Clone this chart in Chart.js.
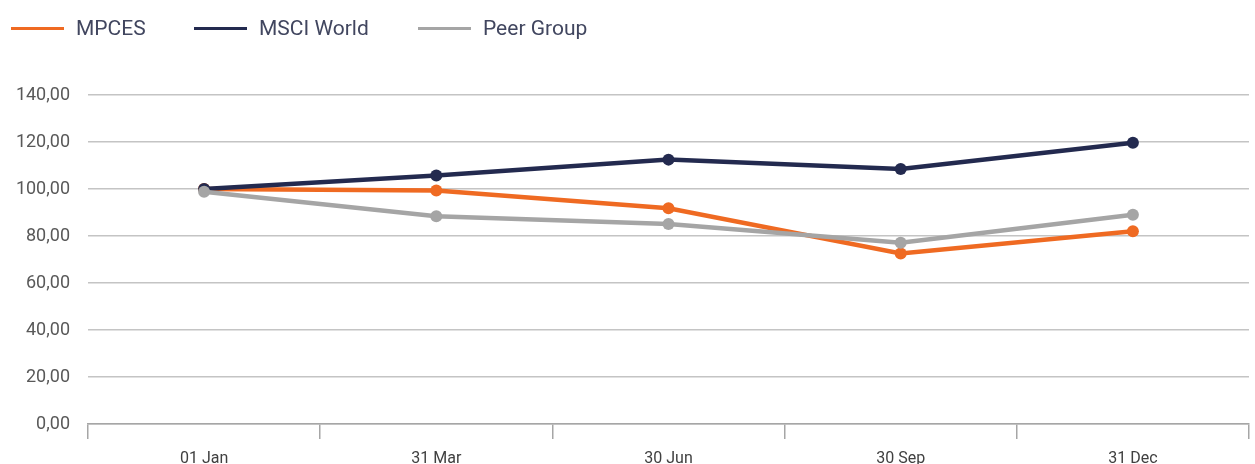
<!DOCTYPE html>
<html>
<head>
<meta charset="utf-8">
<script src="https://cdn.jsdelivr.net/npm/chart.js@4/dist/chart.umd.min.js"></script>
<style>
    html, body { margin: 0; padding: 0; background: #fff; overflow: hidden; }
    #wrap { position: relative; width: 1255px; height: 480px; }
    #legend { position: absolute; left: 0; top: 0; width: 1255px; height: 60px; font-family: Roboto, sans-serif; }
    .item { position: absolute; top: 16px; display: flex; align-items: center; font-size: 21px; color: #41465f; }
    .item span.line { display: inline-block; width: 53px; height: 3px; margin-right: 12px; }
</style>
</head>
<body>
<div id="wrap">
    <canvas id="perfChart" width="1255" height="480"></canvas>
    <div id="legend"></div>
</div>
<script>
// Reporting dates (x axis)
const dates = ['01 Jan', '31 Mar', '30 Jun', '30 Sep', '31 Dec'];

// Series values, indexed to 100
const mpces = [100.0, 99.4, 91.8, 72.6, 82.0];
const msciWorld = [100.0, 105.7, 112.5, 108.5, 119.7];
const peerGroup = [98.8, 88.4, 85.1, 77.1, 89.0];

const seriesNames = ['MPCES', 'MSCI World', 'Peer Group'];
const seriesColors = ['#ef6a22', '#232a4f', '#a5a5a5'];

// y axis ticks
const yMin = 0;
const yMax = 140;
const yStep = 20;

const legendLeft = [11, 194, 418];

document.addEventListener('DOMContentLoaded', function() {
    const ctx = document.getElementById('perfChart');
    if (!ctx) return;

    const values = [mpces, msciWorld, peerGroup];
    const datasets = values.map((data, i) => ({
        label: seriesNames[i],
        data: data,
        borderColor: seriesColors[i],
        backgroundColor: seriesColors[i],
        pointBackgroundColor: seriesColors[i],
        pointBorderColor: seriesColors[i],
        borderWidth: 4.5,
        pointRadius: 6,
        pointBorderWidth: 0,
        tension: 0,
        fill: false,
        order: values.length - i   // last series drawn on top, like the original
    }));

    // simple html legend built from the datasets
    const legend = document.getElementById('legend');
    datasets.forEach((ds, i) => {
        const item = document.createElement('div');
        item.className = 'item';
        item.style.left = legendLeft[i] + 'px';
        item.innerHTML = '<span class="line" style="background:' + ds.borderColor + '"></span>' + ds.label;
        legend.appendChild(item);
    });

    new Chart(ctx, {
        type: 'line',
        data: {
            labels: dates,
            datasets: datasets
        },
        options: {
            responsive: false,
            animation: false,
            layout: {
                padding: { top: 95, right: 2, bottom: 0, left: 0 }
            },
            plugins: {
                legend: { display: false },
                tooltip: { enabled: false }
            },
            scales: {
                x: {
                    type: 'category',
                    offset: true,
                    afterFit: function(scale) { scale.height = 56; },
                    border: { display: true, color: '#a6a6a6', width: 1.5 },
                    grid: {
                        offset: true,
                        drawOnChartArea: false,
                        drawTicks: true,
                        tickLength: 15,
                        color: '#a6a6a6',
                        lineWidth: 1.5
                    },
                    ticks: {
                        maxRotation: 0,
                        padding: 10,
                        color: '#404040',
                        font: { family: 'Roboto', size: 16 }
                    }
                },
                y: {
                    min: yMin,
                    max: yMax,
                    afterFit: function(scale) { scale.width = 88; },
                    border: { display: false },
                    grid: {
                        drawTicks: false,
                        color: '#c4c4c4',
                        lineWidth: 1.5
                    },
                    ticks: {
                        stepSize: yStep,
                        padding: 18,
                        color: '#595959',
                        font: { family: 'Roboto', size: 18 },
                        callback: function(value) {
                            return value.toFixed(2).replace('.', ',');
                        }
                    }
                }
            }
        }
    });
});
</script>
</body>
</html>
